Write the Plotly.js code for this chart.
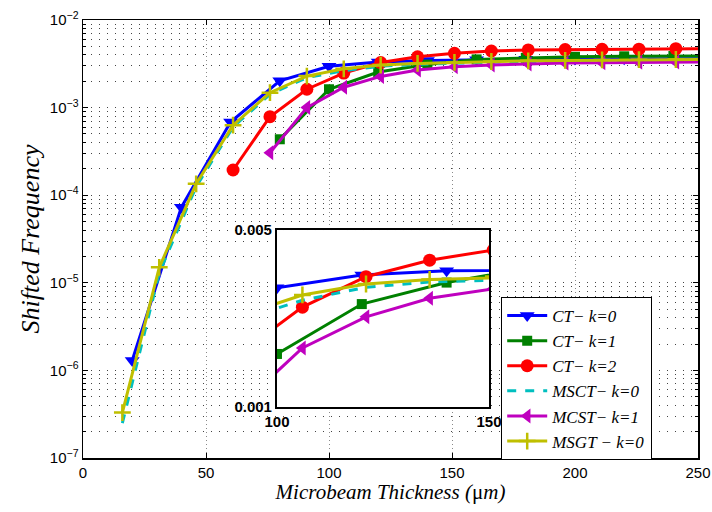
<!DOCTYPE html>
<html><head><meta charset="utf-8">
<script src="https://cdn.plot.ly/plotly-3.0.1.min.js"></script>
<style>body{margin:0;background:#fff}#c{width:712px;height:512px}</style>
</head><body><div id="c"></div><script>
// ---- data ----
const ct0X=[20,40,60,80,100,120,140,160,180,200,220,240,260];
const ct0Y=[1.3e-6,7.3e-5,6.85e-4,2.02e-3,2.96e-3,3.32e-3,3.45e-3,3.52e-3,3.56e-3,3.58e-3,3.6e-3,3.6e-3,3.61e-3];
const ct1X=[80,100,120,140,160,180,200,220,240,260];
const ct1Y=[4.35e-4,1.62e-3,2.55e-3,3.1e-3,3.55e-3,3.7e-3,3.8e-3,3.85e-3,3.88e-3,3.9e-3];
const ct2X=[61,76,91,106,121,136,151,166,181,196,211,226,241,256];
const ct2Y=[1.94e-4,7.87e-4,1.62e-3,2.48e-3,3.27e-3,3.8e-3,4.17e-3,4.43e-3,4.55e-3,4.6e-3,4.63e-3,4.65e-3,4.7e-3,4.72e-3];
const msctX=[16,31,46,61,76,91,106,121,136,151,166,181,196,211,226,241,256];
const msctY=[2.5e-7,1.3e-5,1.25e-4,6.0e-4,1.42e-3,2.2e-3,2.64e-3,2.97e-3,3.12e-3,3.22e-3,3.3e-3,3.36e-3,3.4e-3,3.43e-3,3.46e-3,3.48e-3,3.5e-3];
const mcstX=[76,91,106,121,136,151,166,181,196,211,226,241,256];
const mcstY=[3.05e-4,1.0e-3,1.71e-3,2.27e-3,2.69e-3,2.93e-3,3.06e-3,3.15e-3,3.22e-3,3.26e-3,3.29e-3,3.31e-3,3.33e-3];
const msgtX=[16,31,46,61,76,91,106,121,136,151,166,181,196,211,226,241,256];
const msgtY=[3.3e-7,1.5e-5,1.35e-4,6.3e-4,1.48e-3,2.29e-3,2.77e-3,3.06e-3,3.19e-3,3.28e-3,3.36e-3,3.42e-3,3.46e-3,3.5e-3,3.52e-3,3.54e-3,3.56e-3];
const names=['CT− k=0','CT− k=1','CT− k=2','MSCT− k=0','MCST− k=1','MSGT − k=0'];
const xTicks=[0,50,100,150,200,250];
const yTicks=[1e-7,1e-6,1e-5,1e-4,1e-3,1e-2];
const yTickText=['10<sup>−7</sup>','10<sup>−6</sup>','10<sup>−5</sup>','10<sup>−4</sup>','10<sup>−3</sup>','10<sup>−2</sup>'];
const insetXTicks=[100,150];
const insetYTicks=[0.001,0.005];

// ---- styles ----
const series=[
 {x:ct0X,y:ct0Y,color:'#0000ff',sym:'triangle-down',size:13},
 {x:ct1X,y:ct1Y,color:'#008000',sym:'square',size:10},
 {x:ct2X,y:ct2Y,color:'#ff0000',sym:'circle',size:13},
 {x:msctX,y:msctY,color:'#00bfbf',sym:null,size:0,dash:'dash'},
 {x:mcstX,y:mcstY,color:'#bf00bf',sym:'triangle-left',size:13},
 {x:msgtX,y:msgtY,color:'#bfbf00',sym:'cross-thin-open',size:12}
];
const data=[];
function mk(s,i,xa,ya,leg){
  const t={x:s.x,y:s.y,name:names[i],xaxis:xa,yaxis:ya,showlegend:leg,
    mode:s.sym?'lines+markers':'lines',
    line:{color:s.color,width:3,dash:s.dash||'solid'},cliponaxis:true};
  if(s.sym){
    t.marker={symbol:s.sym,size:s.size,color:s.color,
      line:{color:s.color,width:s.sym==='cross-thin-open'?2.5:0}};
  }
  return t;
}
series.forEach((s,i)=>data.push(mk(s,i,'x','y',true)));
series.forEach((s,i)=>data.push(mk(s,i,'x2','y2',false)));

const tickFont={family:'Liberation Sans, Arial',size:15,color:'black'};
const layout={
  width:712,height:512,
  margin:{l:83,r:14,t:20,b:54},
  paper_bgcolor:'white',plot_bgcolor:'white',
  showlegend:true,
  xaxis:{range:[0,250],tickmode:'array',tickvals:xTicks,ticks:'inside',ticklen:5,tickcolor:'black',
    mirror:'allticks',showline:true,linecolor:'black',linewidth:1.5,
    showgrid:true,gridcolor:'#8a8a8a',griddash:'1px,3px',gridwidth:1,zeroline:false,
    tickfont:tickFont,
    title:{text:'<i>Microbeam Thickness (</i>μ<i>m)</i>',font:{family:'Liberation Serif, Times New Roman',size:21,color:'black'},standoff:4}},
  yaxis:{type:'log',range:[-7,-2],
    tickmode:'array',tickvals:yTicks,ticktext:yTickText,
    ticks:'inside',ticklen:5,tickcolor:'black',
    mirror:'allticks',showline:true,linecolor:'black',linewidth:1.5,
    showgrid:true,gridcolor:'#444',griddash:'1px,7px',gridwidth:1,zeroline:false,
    minor:{dtick:'D1',ticks:'inside',ticklen:3,tickcolor:'black',showgrid:true,gridcolor:'#444',griddash:'1px,7px',gridwidth:1},
    tickfont:tickFont,automargin:false,
    title:{text:'<i>Shifted Frequency</i>',font:{family:'Liberation Serif, Times New Roman',size:26,color:'black'},standoff:2}},
  xaxis2:{domain:[0.3154,0.6602],anchor:'y2',range:[100,150],tickmode:'array',tickvals:insetXTicks,
    ticktext:insetXTicks.map(v=>'<b>'+v+'</b>'),ticks:'',showline:true,mirror:true,linecolor:'black',linewidth:2,
    showgrid:false,zeroline:false,tickfont:tickFont},
  yaxis2:{domain:[0.1164,0.5205],anchor:'x2',type:'log',range:[-3,Math.log10(0.005)],tickmode:'array',tickvals:insetYTicks,
    ticktext:insetYTicks.map(v=>'<b>'+v.toFixed(3)+'</b>'),ticks:'',showline:true,mirror:true,linecolor:'black',linewidth:2,
    showgrid:false,zeroline:false,tickfont:tickFont},
  legend:{x:0.68,y:0.3676,xanchor:'left',yanchor:'top',bgcolor:'white',bordercolor:'black',borderwidth:1,
    font:{family:'Liberation Serif, Times New Roman',size:17,color:'black',style:'italic'},tracegroupgap:0,itemwidth:40}
};
Plotly.newPlot('c',data,layout,{staticPlot:true,displayModeBar:false});
</script></body></html>
